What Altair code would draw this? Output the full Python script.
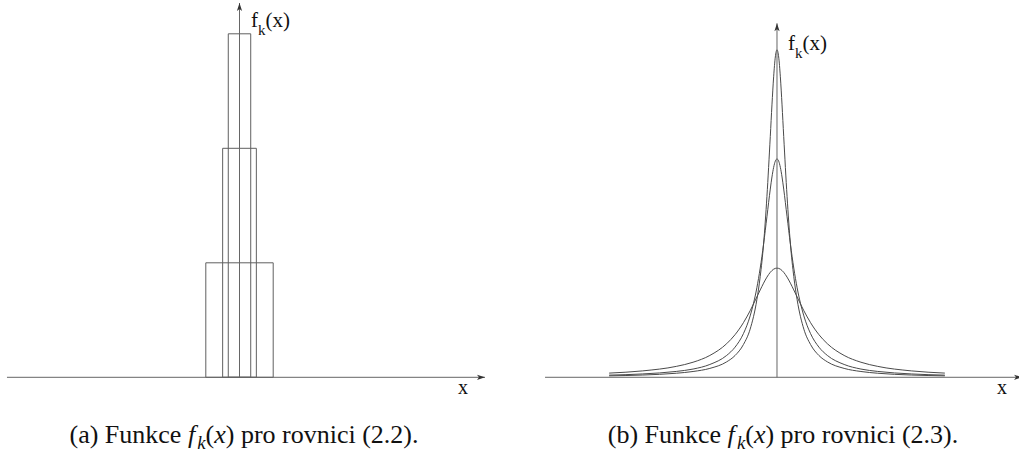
import altair as alt
import pandas as pd

# ---------------- data ----------------
# (a) box functions f_k: height k/2 on [-1/k, 1/k]
box_k = [1, 2, 3]
box_half_width = [1.0, 0.5, 0.333]
box_height = [0.5, 1.0, 1.5]

# (b) peaked curves f_k, sampled on the right half (picture is symmetric)
curve_x_half = [0, 0.05, 0.1, 0.15, 0.2, 0.3, 0.4, 0.5, 0.6, 0.8, 1.0, 1.25, 1.5, 2.0, 2.5, 3.0, 4.0, 5.0]
curve_k1 = [0.3183, 0.3175, 0.3152, 0.3113, 0.3061, 0.2920, 0.2744, 0.2546, 0.2341, 0.1941, 0.1592,
            0.1242, 0.0979, 0.0637, 0.0439, 0.0318, 0.0187, 0.0122]
curve_k2 = [0.6366, 0.6303, 0.6121, 0.5840, 0.5488, 0.4681, 0.3882, 0.3183, 0.2610, 0.1790, 0.1273,
            0.0878, 0.0637, 0.0374, 0.0240, 0.0171, 0.0098, 0.0063]
curve_k3 = [0.9549, 0.9339, 0.8761, 0.7942, 0.7022, 0.5271, 0.3882, 0.2938, 0.2261, 0.1404, 0.0955,
            0.0634, 0.0450, 0.0259, 0.0169, 0.0118, 0.0066, 0.0042]

# axis extents (start, arrow tip) in each panel's data units
left_axis_x = [-6.90, 7.285]
left_axis_y = [0.0, 1.6345]
right_axis_x = [-6.91, 7.30]
right_axis_y = [0.0, 1.032]

captions = ["(a)", "(b)"]
eq_refs = ["(2.2).", "(2.3)."]

# ---------------- tables ----------------
box_df = pd.DataFrame({
    "k": box_k,
    "x0": [-w for w in box_half_width],
    "x1": box_half_width,
    "y0": [0.0] * len(box_k),
    "y1": box_height,
})

rows = []
for k, ys in zip([1, 2, 3], [curve_k1, curve_k2, curve_k3]):
    for xv, yv in zip(curve_x_half[::-1], ys[::-1]):
        if xv != 0:
            rows.append({"k": k, "x": -xv, "y": yv})
    for xv, yv in zip(curve_x_half, ys):
        rows.append({"k": k, "x": xv, "y": yv})
curve_df = pd.DataFrame(rows)

# ---------------- scales (no visible axes) ----------------
XL = alt.Scale(domain=[-7.107, 23.131], nice=False, zero=False)
YL = alt.Scale(domain=[-0.348, 1.6476], nice=False, zero=False)
XR = alt.Scale(domain=[-23.146, 7.209], nice=False, zero=False)
YR = alt.Scale(domain=[-0.2324, 1.1], nice=False, zero=False)

AX_COLOR = "#666666"
LINE_COLOR = "#4a4a4a"
ARROW_R = "M0,0L-4,-1.3L-3,0L-4,1.3Z"
ARROW_U = "M0,0L-1.3,4L0,3L1.3,4Z"
FONT = "Liberation Serif"


def hrule(xs, scale_x, scale_y):
    df = pd.DataFrame({"x0": [xs[0]], "x1": [xs[1]], "y0": [0.0]})
    return alt.Chart(df).mark_rule(color=AX_COLOR, strokeWidth=1).encode(
        x=alt.X("x0:Q", scale=scale_x, axis=None), x2="x1:Q",
        y=alt.Y("y0:Q", scale=scale_y, axis=None))


def vrule(ys, scale_x, scale_y):
    df = pd.DataFrame({"x0": [0.0], "y0": [ys[0]], "y1": [ys[1]]})
    return alt.Chart(df).mark_rule(color=AX_COLOR, strokeWidth=1).encode(
        x=alt.X("x0:Q", scale=scale_x, axis=None),
        y=alt.Y("y0:Q", scale=scale_y, axis=None), y2="y1:Q")


def arrow(xv, yv, shape, scale_x, scale_y):
    df = pd.DataFrame({"x": [xv], "y": [yv]})
    return alt.Chart(df).mark_point(shape=shape, size=16, filled=True, color="#333333",
                                    opacity=1, strokeWidth=0).encode(
        x=alt.X("x:Q", scale=scale_x, axis=None),
        y=alt.Y("y:Q", scale=scale_y, axis=None))


rects = alt.Chart(box_df).mark_rect(fillOpacity=0, stroke="#606060", strokeWidth=1).encode(
    x=alt.X("x0:Q", scale=XL, axis=None), x2="x1:Q",
    y=alt.Y("y0:Q", scale=YL, axis=None), y2="y1:Q")

curves = alt.Chart(curve_df).mark_line(interpolate="monotone", color=LINE_COLOR, strokeWidth=1).encode(
    x=alt.X("x:Q", scale=XR, axis=None),
    y=alt.Y("y:Q", scale=YR, axis=None),
    detail="k:N")

# ---------------- text layout (Times-compatible advance widths) ----------------
REG = {' ': 250, '(': 333, ')': 333, '.': 250, '2': 500, '3': 500, 'a': 444, 'b': 500, 'c': 444,
       'e': 444, 'F': 556, 'i': 278, 'k': 500, 'n': 500, 'o': 500, 'p': 500, 'r': 333, 'u': 500,
       'v': 500, 'x': 500, 'f': 333}
ITA = {'f': 278, 'k': 444, 'x': 444}


def tw(s, italic, fs):
    table = ITA if italic else REG
    return sum(table.get(c, 500) for c in s) * fs / 1000.0


text_rows = []


def add(t, px, py, fs, italic):
    text_rows.append({"t": t, "px": px, "py": py, "fs": fs, "it": italic})


def caption(label, ref, center, base, fs):
    sub = fs * 0.72
    segs = [(label + " Funkce", False, fs, 0), (" ", False, fs, None),
            ("f", True, fs, 0), ("k", True, sub, 0.22 * fs), ("(", False, fs, 0),
            ("x", True, fs, 0), (")", False, fs, 0), (" ", False, fs, None),
            ("pro rovnici " + ref, False, fs, 0)]
    total = sum(tw(s, it, f) for s, it, f, _ in segs) + 0.08 * fs
    x = center - total / 2
    for s, it, f, dy in segs:
        if dy is not None:
            add(s, x, base + dy, f, it)
        x += tw(s, it, f)
        if s == "f":
            x += 0.08 * fs


def fk_label(x, base, fs):
    sub = 15
    add("f", x, base, fs, False)
    x += tw("f", False, fs)
    add("k", x, base + 8, sub, False)
    x += tw("k", False, sub)
    add("(x)", x, base, fs, False)


fk_label(251, 27, 21)
fk_label(788, 50, 21)
add("x", 458, 394, 20, False)
add("x", 997, 394, 20, False)
CAP_FS = 26
caption(captions[0], eq_refs[0], 244, 443, CAP_FS)
caption(captions[1], eq_refs[1], 783, 443, CAP_FS)

text_df = pd.DataFrame(text_rows)


def text_layer(italic):
    return alt.Chart(text_df[text_df["it"] == italic]).mark_text(
        font=FONT, align="left", baseline="alphabetic", color="#111111",
        fontStyle="italic" if italic else "normal").encode(
        x=alt.X("px:Q", scale=None, axis=None),
        y=alt.Y("py:Q", scale=None, axis=None),
        text="t:N",
        size=alt.Size("fs:Q", scale=None, legend=None))


chart = alt.layer(
    rects,
    hrule(left_axis_x, XL, YL),
    vrule(left_axis_y, XL, YL),
    arrow(left_axis_x[1], 0.0, ARROW_R, XL, YL),
    arrow(0.0, left_axis_y[1], ARROW_U, XL, YL),
    curves,
    hrule(right_axis_x, XR, YR),
    vrule(right_axis_y, XR, YR),
    arrow(right_axis_x[1], 0.0, ARROW_R, XR, YR),
    arrow(0.0, right_axis_y[1], ARROW_U, XR, YR),
    text_layer(False),
    text_layer(True),
).resolve_scale(x="independent", y="independent").properties(
    width=1019, height=457, padding=0,
    autosize=alt.AutoSizeParams(type="none"),
    background="white",
).configure_view(strokeWidth=0)

chart.save("out.html", embed_options={"renderer": "svg", "actions": False})
